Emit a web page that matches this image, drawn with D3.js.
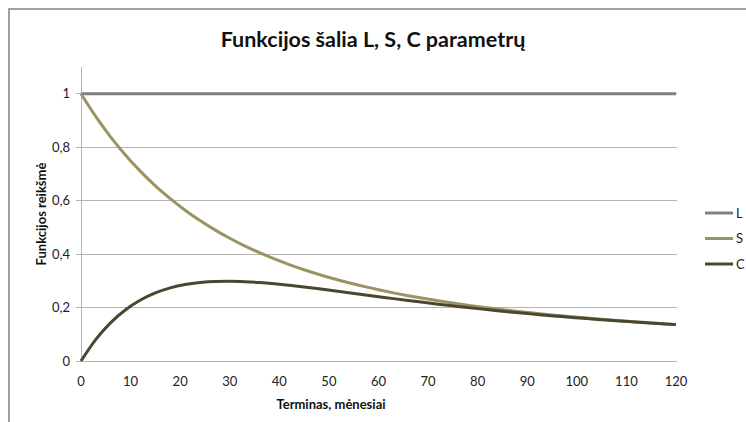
<!DOCTYPE html>
<html>
<head>
<meta charset="utf-8">
<script src="https://cdn.jsdelivr.net/npm/d3@7"></script>
<style>
  html, body { margin: 0; padding: 0; background: #fff; }
  svg { display: block; }
  text { font-family: Lato, "Open Sans", sans-serif; }
</style>
</head>
<body>
<svg id="chart" width="746" height="422"></svg>
<script>
// Term in months
const months = [0,3,6,9,12,15,18,21,24,27,30,33,36,39,42,45,48,51,54,57,60,
  63,66,69,72,75,78,81,84,87,90,93,96,99,102,105,108,111,114,117,120];
// Level loading
const levelValues = months.map(() => 1);
// Slope loading
const slopeValues = [1.0000,0.9141,0.8377,0.7699,0.7095,0.6556,0.6075,0.5643,0.5255,0.4907,
  0.4593,0.4309,0.4052,0.3819,0.3607,0.3414,0.3237,0.3075,0.2927,0.2791,0.2666,
  0.2550,0.2443,0.2344,0.2252,0.2167,0.2087,0.2013,0.1943,0.1878,0.1817,
  0.1759,0.1706,0.1655,0.1607,0.1561,0.1518,0.1478,0.1439,0.1402,0.1367];
// Curvature loading
const curveValues = [0.0000,0.0811,0.1438,0.1919,0.2280,0.2545,0.2734,0.2860,0.2936,0.2976,
  0.2984,0.2969,0.2936,0.2889,0.2832,0.2769,0.2700,0.2627,0.2554,0.2480,0.2407,
  0.2334,0.2263,0.2194,0.2127,0.2063,0.2000,0.1941,0.1883,0.1828,0.1775,
  0.1724,0.1677,0.1631,0.1587,0.1544,0.1504,0.1466,0.1429,0.1394,0.1361];
const seriesNames = ["L", "S", "C"];
const xTicks = [0,10,20,30,40,50,60,70,80,90,100,110,120];
const yTicks = [0,0.2,0.4,0.6,0.8,1];

const colors = { L: "#808080", S: "#9b9462", C: "#4b4631" };
const seriesData = { L: levelValues, S: slopeValues, C: curveValues };

const svg = d3.select("#chart");

// Chart frame
svg.append("path")
  .attr("d", "M9,430 V9 H760")
  .attr("fill", "none")
  .attr("stroke", "#a0a0a0")
  .attr("stroke-width", 2);

const x = d3.scaleLinear().domain([0, 120]).range([81, 676]);
const y = d3.scaleLinear().domain([0, 1.1]).range([361, 67]);

// Horizontal gridlines
svg.append("g")
  .selectAll("line")
  .data(yTicks)
  .join("line")
  .attr("x1", x(0) - 5).attr("x2", x(120) + 1)
  .attr("y1", d => y(d)).attr("y2", d => y(d))
  .attr("stroke", "#b4b4b4")
  .attr("stroke-width", 1)
  .attr("shape-rendering", "crispEdges");

// Vertical axis line
svg.append("line")
  .attr("x1", x(0)).attr("x2", x(0))
  .attr("y1", y(1.1)).attr("y2", y(0))
  .attr("stroke", "#b4b4b4")
  .attr("shape-rendering", "crispEdges");

// Y axis labels
const fmt = d => d === 0 ? "0" : d === 1 ? "1" : String(d).replace(".", ",");
svg.append("g")
  .selectAll("text")
  .data(yTicks)
  .join("text")
  .attr("x", x(0) - 11)
  .attr("y", d => y(d))
  .attr("dy", "0.35em")
  .attr("text-anchor", "end")
  .attr("font-size", 13)
  .attr("fill", "#222")
  .text(fmt);

// X axis labels
svg.append("g")
  .selectAll("text")
  .data(xTicks)
  .join("text")
  .attr("x", d => x(d))
  .attr("y", 386)
  .attr("text-anchor", "middle")
  .attr("font-size", 13)
  .attr("fill", "#222")
  .text(d => d);

// Series lines
const line = d3.line()
  .x((d, i) => x(months[i]))
  .y(d => y(d))
  .curve(d3.curveMonotoneX);

seriesNames.forEach(name => {
  svg.append("path")
    .datum(seriesData[name])
    .attr("fill", "none")
    .attr("stroke", colors[name])
    .attr("stroke-width", 3)
    .attr("stroke-linejoin", "round")
    .attr("d", line);
});

// Title
svg.append("text")
  .attr("x", 373)
  .attr("y", 47)
  .attr("text-anchor", "middle")
  .attr("font-size", 21.5)
  .attr("font-weight", "bold")
  .attr("fill", "#111")
  .text("Funkcijos šalia L, S, C parametrų");

// Axis titles
svg.append("text")
  .attr("x", 331)
  .attr("y", 409)
  .attr("text-anchor", "middle")
  .attr("font-size", 13)
  .attr("font-weight", "bold")
  .attr("fill", "#111")
  .text("Terminas, mėnesiai");

svg.append("text")
  .attr("transform", `translate(46,${(y(0) + y(1.1)) / 2}) rotate(-90)`)
  .attr("text-anchor", "middle")
  .attr("font-size", 13)
  .attr("font-weight", "bold")
  .attr("fill", "#111")
  .text("Funkcijos reikšmė");

// Legend
const legend = svg.append("g")
  .selectAll("g")
  .data(seriesNames)
  .join("g")
  .attr("transform", (d, i) => `translate(705,${213 + i * 25.5})`);
legend.append("line")
  .attr("x1", 0).attr("x2", 28)
  .attr("stroke", d => colors[d])
  .attr("stroke-width", 3);
legend.append("text")
  .attr("x", 31)
  .attr("dy", "0.35em")
  .attr("font-size", 13)
  .attr("fill", "#222")
  .text(d => d);
</script>
</body>
</html>
